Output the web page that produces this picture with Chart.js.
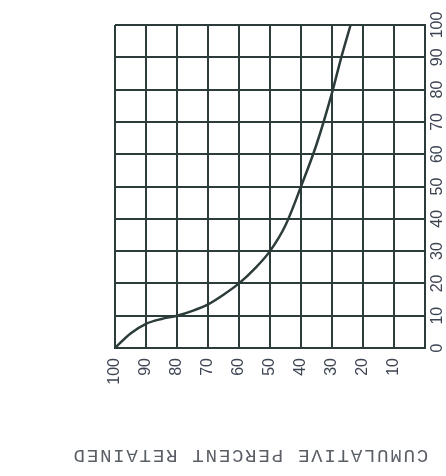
<!DOCTYPE html>
<html>
<head>
<meta charset="utf-8">
<script src="https://cdn.jsdelivr.net/npm/chart.js@4"></script>
<style>
  html, body { margin: 0; padding: 0; background: #fff; }
  #wrap { width: 446px; height: 476px; }
</style>
</head>
<body>
<div id="wrap"><canvas id="grafico"></canvas></div>
<script>
// percent passing (x) vs cumulative percent retained (y)
var pctPassing = [100, 95, 90, 85, 80, 75, 70, 65, 60, 55, 50, 45, 40, 35, 30, 27, 24];
var pctRetained = [0, 4.5, 7.5, 9, 10, 11.5, 13.5, 16.5, 20, 24.5, 30, 38, 50, 63, 79, 90, 100];
var tituloEje = 'CUMULATIVE PERCENT RETAINED';

var tinta = '#2c3c3a';
var textoColor = '#3d4452';
var fuenteTicks = '16px "Liberation Sans", Arial, sans-serif';

var puntos = pctPassing.map(function (x, i) { return { x: x, y: pctRetained[i] }; });

// titulo de abajo al reves, y etiquetas del eje derecho giradas y centradas en su tick
var textosGirados = {
  id: 'textosGirados',
  afterDraw: function (chart) {
    var c = chart.ctx;
    var ey = chart.scales.y;
    c.save();
    c.font = fuenteTicks;
    c.fillStyle = textoColor;
    c.textAlign = 'center';
    c.textBaseline = 'middle';
    ey.ticks.forEach(function (t) {
      c.save();
      c.translate(ey.left + 13, ey.getPixelForValue(t.value));
      c.rotate(-Math.PI / 2);
      c.fillText(String(t.value), 0, 0);
      c.restore();
    });
    c.restore();

    c.save();
    c.translate(250, 455);
    c.rotate(Math.PI);
    c.font = '19px "Liberation Mono", monospace';
    c.letterSpacing = '1.8px';
    c.fillStyle = '#5a5f66';
    c.textAlign = 'center';
    c.textBaseline = 'middle';
    c.fillText(tituloEje, 0, 0);
    c.restore();
  }
};

var ctx = document.getElementById('grafico').getContext('2d');
var grafico = new Chart(ctx, {
  type: 'scatter',
  data: {
    datasets: [{
      data: puntos,
      showLine: true,
      borderColor: tinta,
      borderWidth: 2.5,
      pointRadius: 0,
      cubicInterpolationMode: 'monotone',
      fill: false
    }]
  },
  options: {
    responsive: true,
    maintainAspectRatio: false,
    animation: false,
    layout: { padding: { left: 115, top: 25, right: 0, bottom: 0 } },
    plugins: { legend: { display: false }, tooltip: { enabled: false } },
    scales: {
      x: {
        type: 'linear',
        reverse: true,
        min: 0, max: 100,
        grid: { color: tinta, lineWidth: 2, drawTicks: false },
        border: { color: tinta, width: 2 },
        ticks: {
          stepSize: 10,
          minRotation: 90, maxRotation: 90,
          padding: 10,
          color: textoColor,
          font: { family: '"Liberation Sans", Arial, sans-serif', size: 16 },
          callback: function (v) { return v === 0 ? '' : v; }
        },
        afterFit: function (s) { s.height = 128; s.paddingLeft = 0; s.paddingRight = 0; }
      },
      y: {
        position: 'right',
        min: 0, max: 100,
        grid: { color: tinta, lineWidth: 2, drawTicks: false },
        border: { color: tinta, width: 2 },
        ticks: { stepSize: 10, display: false },
        afterFit: function (s) { s.width = 21; s.paddingTop = 0; s.paddingBottom = 0; }
      }
    }
  },
  plugins: [textosGirados]
});
</script>
</body>
</html>
